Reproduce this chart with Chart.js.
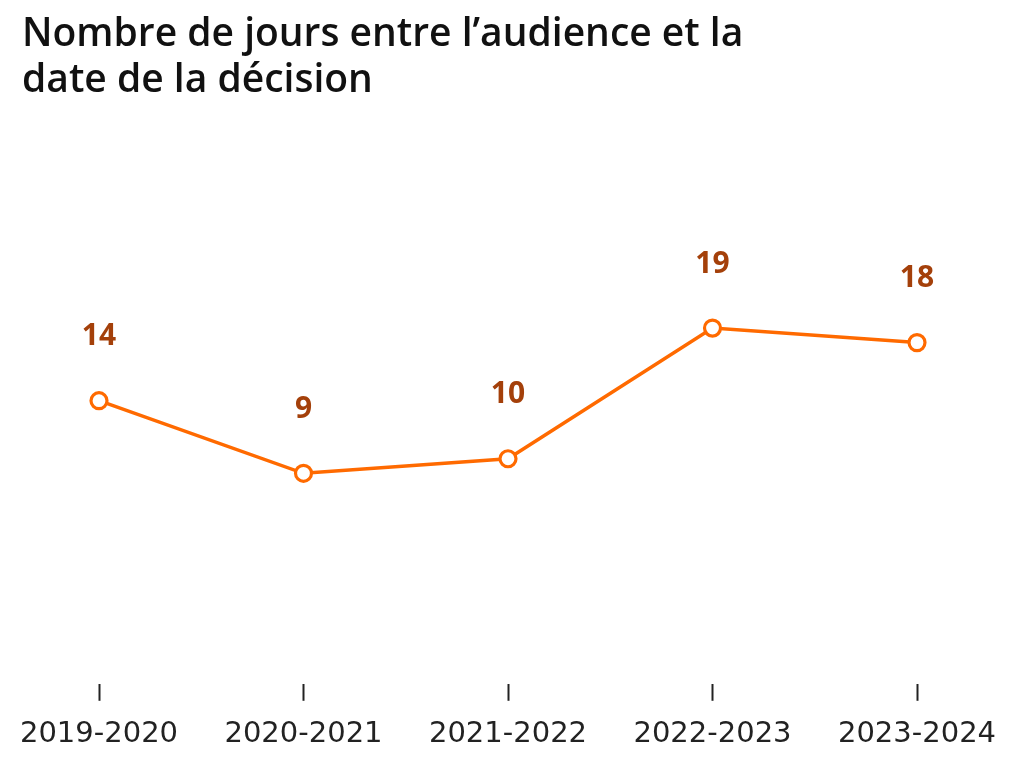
<!DOCTYPE html>
<html>
<head>
<meta charset="utf-8">
<script src="https://cdn.jsdelivr.net/npm/chart.js@4.4.1/dist/chart.umd.min.js"></script>
<style>
  html, body { margin: 0; padding: 0; background: #fff; }
  #wrap { width: 1024px; height: 768px; }
</style>
</head>
<body>
<div id="wrap"><canvas id="chart"></canvas></div>
<script>
const titleLines = ["Nombre de jours entre l\u2019audience et la", "date de la d\u00e9cision"];
const seasons = ["2019-2020", "2020-2021", "2021-2022", "2022-2023", "2023-2024"];
const days = [14, 9, 10, 19, 18];

const lineColor = "#ff6a00";
const labelColor = "#a4400a";

// draws the value above each point, using the scale positions
const valueLabels = {
  id: "valueLabels",
  afterDatasetsDraw(chart) {
    const { ctx } = chart;
    const meta = chart.getDatasetMeta(0);
    ctx.save();
    ctx.font = "bold 30px 'Open Sans'";
    ctx.fillStyle = labelColor;
    ctx.textAlign = "center";
    ctx.textBaseline = "middle";
    meta.data.forEach((pt, i) => {
      ctx.fillText(String(days[i]), pt.x, pt.y - 64);
    });
    ctx.restore();
  },
};

new Chart(document.getElementById("chart"), {
  type: "line",
  data: {
    labels: seasons,
    datasets: [
      {
        data: days,
        borderColor: lineColor,
        borderWidth: 3.5,
        pointRadius: 8,
        pointHoverRadius: 8,
        pointBorderWidth: 3.2,
        pointBackgroundColor: "#fff",
        pointBorderColor: lineColor,
        tension: 0,
      },
    ],
  },
  options: {
    responsive: true,
    maintainAspectRatio: false,
    animation: false,
    layout: { padding: { left: 22, right: 22, top: 12, bottom: 0 } },
    plugins: {
      legend: { display: false },
      tooltip: { enabled: false },
      title: {
        display: true,
        text: titleLines,
        align: "start",
        color: "#111",
        font: { family: "'Open Sans'", size: 39, weight: "600", lineHeight: 1.18 },
        padding: { top: 0, bottom: 60 },
      },
    },
    scales: {
      x: {
        offset: false,
        border: { display: false },
        grid: {
          drawOnChartArea: false,
          drawTicks: true,
          tickLength: 17,
          tickWidth: 2,
          tickColor: "#222",
        },
        ticks: {
          color: "#222",
          padding: 22,
          font: { family: "'DejaVu Sans'", size: 29, lineHeight: 0.8 },
          maxRotation: 0,
          autoSkip: false,
        },
        // keep first and last season away from the edges
        afterFit(scale) {
          scale.paddingLeft = 99;
          scale.paddingRight = 107;
        },
      },
      y: {
        display: false,
        min: -5.5,
        max: 30.3,
      },
    },
  },
  plugins: [valueLabels],
});
</script>
</body>
</html>
